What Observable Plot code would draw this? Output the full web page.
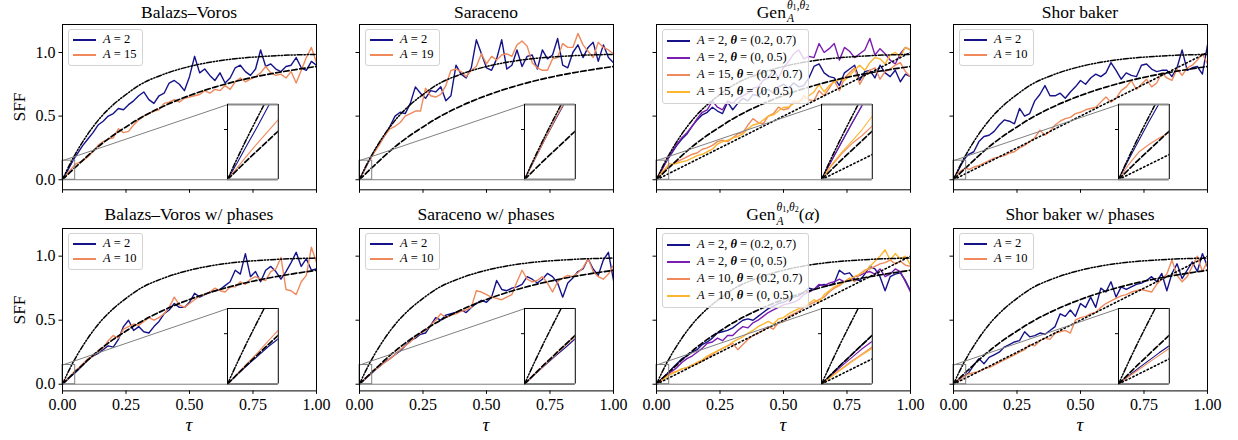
<!DOCTYPE html>
<html>
<head>
<meta charset="utf-8">
<script src="https://cdn.jsdelivr.net/npm/d3@7"></script>
<script src="https://cdn.jsdelivr.net/npm/@observablehq/plot@0.6"></script>
<style>
  body { margin: 0; background: #fff; }
  #fig { position: relative; width: 1238px; height: 440px; overflow: hidden;
         font-family: "Liberation Serif", "Times New Roman", serif; color: #000; }
  .title { position: absolute; font-size: 17.5px; line-height: 20px; text-align: center; white-space: nowrap; }
  .ss { display: inline-block; font-size: 0.66em; line-height: 1.18; vertical-align: -0.42em;
        text-align: left; margin: -0.8em 0 -0.8em 1px; }
  .ss > span { display: block; }
  .ss sub { font-size: 0.7em; vertical-align: -0.15em; line-height: 0; }
  .legend { position: absolute; background: rgba(255,255,255,0.8); border: 1px solid #d3d3d3;
            border-radius: 3px; padding: 2px 6px 3px 4px; font-size: 12.5px; }
  .legend .row { display: flex; align-items: center; white-space: nowrap; }
  .legend .sw { display: block; width: 23px; height: 2px; margin-right: 7px; flex: none; }
  .ylab { position: absolute; font-size: 17.5px; transform: translate(-50%, -50%) rotate(-90deg); white-space: nowrap; }
  .xlab { position: absolute; font-size: 19px; font-style: italic; transform: translate(-50%, -50%); }
</style>
</head>
<body>
<div id="fig"></div>
<script>
// ---- shared τ sampling of the measured SFF curves ----
const tauGrid = [0, 0.01, 0.02, 0.03, 0.04, 0.05,
  0.06, 0.08, 0.10, 0.12, 0.14, 0.16, 0.18, 0.20, 0.22, 0.24, 0.26, 0.28, 0.30, 0.32, 0.34, 0.36, 0.38, 0.40,
  0.42, 0.44, 0.46, 0.48, 0.50, 0.52, 0.54, 0.56, 0.58, 0.60, 0.62, 0.64, 0.66, 0.68, 0.70, 0.72, 0.74, 0.76,
  0.78, 0.80, 0.82, 0.84, 0.86, 0.88, 0.90, 0.92, 0.94, 0.96, 0.98, 1.00];

// Balazs–Voros
const bvA2 = [0, 0.035, 0.072, 0.108, 0.146, 0.18,
  0.21, 0.27, 0.32, 0.37, 0.43, 0.46, 0.50, 0.52,
  0.56, 0.55, 0.59, 0.62, 0.66, 0.69, 0.63, 0.60, 0.66, 0.68,
  0.76, 0.78, 0.75, 0.70, 0.81, 0.97, 0.84, 0.87, 0.82, 0.78,
  0.84, 0.76, 0.80, 0.88, 0.90, 0.85, 0.82, 0.87, 1.02, 0.89,
  0.91, 0.87, 0.85, 0.89, 0.90, 0.96, 0.88, 0.86, 0.93, 0.90];
const bvA15 = [0, 0.025, 0.05, 0.074, 0.097, 0.12,
  0.13, 0.15, 0.18, 0.22, 0.27, 0.30, 0.32, 0.33,
  0.40, 0.37, 0.38, 0.43, 0.47, 0.50, 0.52, 0.54, 0.55, 0.60,
  0.61, 0.63, 0.61, 0.64, 0.65, 0.66, 0.67, 0.70, 0.68, 0.71,
  0.70, 0.74, 0.71, 0.77, 0.80, 0.77, 0.79, 0.81, 0.84, 0.89,
  0.84, 0.82, 0.83, 0.80, 0.85, 0.76, 0.86, 0.96, 1.04, 0.92];

// Saraceno
const saA2 = [0, 0.04, 0.08, 0.118, 0.155, 0.19,
  0.23, 0.29, 0.35, 0.42, 0.50, 0.53, 0.52, 0.60,
  0.73, 0.68, 0.64, 0.70, 0.69, 0.73, 0.62, 0.66, 0.90, 0.83,
  0.80, 0.88, 1.10, 0.99, 0.88, 0.86, 0.95, 1.10, 0.87, 0.90,
  1.02, 0.89, 0.97, 0.98, 0.87, 1.02, 0.95, 0.98, 1.11, 0.90,
  0.88, 1.00, 1.06, 0.96, 1.04, 1.08, 0.93, 1.06, 0.96, 0.92];
const saA19 = [0, 0.04, 0.08, 0.12, 0.157, 0.19,
  0.22, 0.28, 0.35, 0.40, 0.42, 0.45, 0.50, 0.52,
  0.54, 0.54, 0.72, 0.66, 0.65, 0.67, 0.74, 0.86, 0.87, 0.85,
  0.81, 0.86, 0.89, 0.99, 0.91, 0.97, 0.94, 0.98, 0.99, 0.97,
  1.06, 1.09, 1.05, 0.92, 0.88, 0.86, 0.86, 0.95, 0.96, 1.07,
  1.04, 1.04, 1.15, 1.06, 1.01, 0.96, 1.08, 1.04, 1.02, 0.99];

// Gen_A^{θ1,θ2}
const genA2a = [0, 0.038, 0.075, 0.112, 0.148, 0.18,
  0.21, 0.27, 0.32, 0.36, 0.42, 0.47, 0.51, 0.53,
  0.57, 0.54, 0.52, 0.61, 0.55, 0.60, 0.64, 0.62, 0.67, 0.66,
  0.70, 0.71, 0.68, 0.73, 0.75, 0.72, 0.76, 0.73, 0.74, 0.80,
  0.89, 0.91, 0.84, 0.81, 0.80, 0.74, 0.84, 0.87, 0.90, 0.78,
  0.85, 0.86, 0.80, 0.90, 0.84, 0.81, 0.86, 0.77, 0.83, 0.81];
const genA2b = [0, 0.038, 0.076, 0.113, 0.149, 0.18,
  0.22, 0.28, 0.33, 0.37, 0.42, 0.48, 0.53, 0.55,
  0.62, 0.57, 0.55, 0.62, 0.60, 0.64, 0.66, 0.68, 0.72, 0.73,
  0.78, 0.80, 0.86, 0.80, 0.88, 0.93, 0.99, 1.02, 0.95, 0.97,
  0.96, 1.07, 1.00, 1.03, 1.07, 0.94, 1.04, 1.01, 0.96, 0.99,
  1.02, 1.11, 0.98, 1.03, 0.99, 0.94, 0.91, 0.99, 1.04, 1.02];
const genA15a = [0, 0.028, 0.052, 0.072, 0.088, 0.107,
  0.12, 0.14, 0.16, 0.18, 0.20, 0.21, 0.24, 0.25,
  0.27, 0.30, 0.31, 0.30, 0.33, 0.36, 0.37, 0.43, 0.48, 0.45,
  0.44, 0.50, 0.52, 0.57, 0.55, 0.56, 0.62, 0.60, 0.66, 0.63,
  0.62, 0.70, 0.66, 0.72, 0.78, 0.70, 0.80, 0.84, 0.88, 0.75,
  0.82, 0.86, 0.88, 0.79, 0.85, 0.87, 0.90, 0.92, 0.85, 0.81];
const genA15b = [0, 0.03, 0.055, 0.077, 0.10, 0.127,
  0.12, 0.13, 0.14, 0.15, 0.17, 0.19, 0.20, 0.22,
  0.24, 0.28, 0.30, 0.31, 0.33, 0.34, 0.36, 0.40, 0.43, 0.44,
  0.47, 0.50, 0.51, 0.54, 0.57, 0.57, 0.60, 0.62, 0.63, 0.66,
  0.69, 0.75, 0.69, 0.74, 0.77, 0.79, 0.78, 0.82, 0.86, 0.90,
  0.86, 0.92, 0.96, 0.95, 0.91, 0.98, 1.00, 0.97, 1.04, 1.02];

// Shor baker
const shA2 = [0, 0.04, 0.078, 0.116, 0.152, 0.18,
  0.20, 0.22, 0.30, 0.34, 0.35, 0.38, 0.43, 0.47,
  0.46, 0.44, 0.56, 0.50, 0.52, 0.62, 0.67, 0.74, 0.66, 0.66,
  0.68, 0.64, 0.69, 0.73, 0.78, 0.75, 0.80, 0.83, 0.81, 0.84,
  0.92, 0.86, 0.79, 0.84, 0.82, 0.81, 0.90, 0.91, 0.87, 0.85,
  0.86, 0.86, 0.81, 0.88, 1.02, 0.86, 0.88, 0.89, 0.83, 1.06];
const shA10 = [0, 0.03, 0.055, 0.07, 0.083, 0.094,
  0.08, 0.10, 0.11, 0.13, 0.15, 0.17, 0.18, 0.19,
  0.21, 0.22, 0.25, 0.27, 0.30, 0.33, 0.39, 0.35, 0.38, 0.43,
  0.46, 0.48, 0.49, 0.52, 0.53, 0.55, 0.56, 0.57, 0.61, 0.65,
  0.61, 0.64, 0.70, 0.73, 0.78, 0.71, 0.75, 0.79, 0.73, 0.76,
  0.84, 0.80, 0.78, 0.87, 0.82, 0.88, 0.90, 0.94, 0.99, 0.91];

// Balazs–Voros w/ phases
const bvpA2 = [0, 0.02, 0.038, 0.056, 0.074, 0.09,
  0.11, 0.15, 0.19, 0.22, 0.24, 0.27, 0.30, 0.29,
  0.35, 0.45, 0.50, 0.42, 0.45, 0.41, 0.40, 0.45, 0.49, 0.55,
  0.58, 0.63, 0.60, 0.60, 0.64, 0.71, 0.68, 0.70, 0.72, 0.73,
  0.74, 0.77, 0.80, 0.89, 0.86, 1.02, 0.84, 0.88, 0.80, 0.89,
  0.92, 0.88, 0.82, 0.88, 0.95, 1.03, 0.92, 0.98, 0.89, 0.90];
const bvpA10 = [0, 0.021, 0.042, 0.063, 0.085, 0.107,
  0.12, 0.16, 0.20, 0.22, 0.26, 0.28, 0.34, 0.38,
  0.36, 0.43, 0.45, 0.47, 0.46, 0.49, 0.52, 0.50, 0.52, 0.55,
  0.60, 0.68, 0.62, 0.60, 0.63, 0.66, 0.69, 0.70, 0.72, 0.75,
  0.73, 0.72, 0.76, 0.76, 0.80, 0.78, 0.82, 0.84, 0.82, 0.81,
  0.88, 0.90, 0.99, 0.74, 0.73, 0.70, 0.80, 0.85, 1.07, 0.95];

// Saraceno w/ phases
const sapA2 = [0, 0.019, 0.037, 0.055, 0.072, 0.09,
  0.11, 0.14, 0.175, 0.20, 0.23, 0.26, 0.30, 0.34,
  0.36, 0.39, 0.40, 0.46, 0.52, 0.50, 0.54, 0.55, 0.56, 0.58,
  0.56, 0.60, 0.63, 0.655, 0.64, 0.68, 0.81, 0.74, 0.73, 0.75,
  0.76, 0.78, 0.84, 0.82, 0.79, 0.82, 0.865, 0.84, 0.79, 0.68,
  0.79, 0.83, 0.88, 0.90, 0.98, 0.90, 0.85, 0.97, 1.03, 0.81];
const sapA10 = [0, 0.019, 0.038, 0.057, 0.076, 0.095,
  0.11, 0.14, 0.17, 0.20, 0.23, 0.27, 0.30, 0.33,
  0.37, 0.40, 0.42, 0.46, 0.50, 0.55, 0.52, 0.54, 0.55, 0.57,
  0.58, 0.60, 0.73, 0.72, 0.70, 0.68, 0.67, 0.66, 0.68, 0.70,
  0.80, 0.89, 0.82, 0.80, 0.81, 0.84, 0.79, 0.72, 0.80, 0.83,
  0.85, 0.84, 0.87, 0.91, 0.98, 0.88, 0.84, 0.82, 0.86, 0.93];

// Gen_A^{θ1,θ2}(α)
const genpA2a = [0, 0.02, 0.04, 0.059, 0.078, 0.097,
  0.12, 0.16, 0.20, 0.22, 0.25, 0.27, 0.31, 0.33,
  0.36, 0.40, 0.41, 0.42, 0.44, 0.47, 0.50, 0.51, 0.50, 0.53,
  0.56, 0.59, 0.61, 0.63, 0.64, 0.66, 0.68, 0.69, 0.72, 0.75,
  0.74, 0.77, 0.78, 0.77, 0.79, 0.89, 0.86, 0.87, 0.82, 0.81,
  0.86, 0.92, 0.90, 0.84, 0.73, 0.84, 0.86, 0.87, 0.81, 0.73];
const genpA2b = [0, 0.018, 0.036, 0.053, 0.07, 0.085,
  0.10, 0.13, 0.17, 0.20, 0.22, 0.25, 0.28, 0.32,
  0.33, 0.36, 0.34, 0.38, 0.38, 0.42, 0.45, 0.44, 0.48, 0.50,
  0.53, 0.56, 0.58, 0.60, 0.62, 0.63, 0.64, 0.66, 0.70, 0.72,
  0.74, 0.78, 0.77, 0.79, 0.80, 0.82, 0.80, 0.81, 0.84, 0.85,
  0.87, 0.88, 0.86, 0.90, 0.84, 0.86, 0.90, 0.88, 0.80, 0.72];
const genpA10a = [0, 0.016, 0.031, 0.046, 0.06, 0.074,
  0.09, 0.10, 0.12, 0.13, 0.15, 0.16, 0.18, 0.21,
  0.23, 0.26, 0.28, 0.30, 0.32, 0.27, 0.31, 0.35, 0.38, 0.40,
  0.42, 0.45, 0.43, 0.48, 0.49, 0.53, 0.55, 0.57, 0.60, 0.62,
  0.64, 0.66, 0.68, 0.72, 0.75, 0.77, 0.80, 0.83, 0.80, 0.86,
  0.89, 0.90, 0.92, 0.94, 0.95, 0.97, 0.94, 0.96, 0.93, 0.92];
const genpA10b = [0, 0.015, 0.03, 0.044, 0.058, 0.071,
  0.08, 0.10, 0.12, 0.13, 0.15, 0.17, 0.19, 0.22,
  0.24, 0.26, 0.28, 0.30, 0.33, 0.35, 0.37, 0.40, 0.42, 0.45,
  0.47, 0.49, 0.47, 0.51, 0.52, 0.55, 0.57, 0.59, 0.61, 0.63,
  0.66, 0.64, 0.70, 0.73, 0.76, 0.78, 0.80, 0.82, 0.84, 0.86,
  0.88, 0.92, 0.96, 1.00, 1.05, 0.97, 1.02, 0.98, 1.00, 0.93];

// Shor baker w/ phases
const shpA2 = [0, 0.016, 0.032, 0.047, 0.062, 0.076,
  0.09, 0.15, 0.20, 0.16, 0.21, 0.23, 0.25, 0.29,
  0.31, 0.33, 0.34, 0.41, 0.37, 0.38, 0.40, 0.39, 0.42, 0.45,
  0.55, 0.53, 0.58, 0.53, 0.63, 0.60, 0.68, 0.60, 0.75, 0.72,
  0.80, 0.68, 0.76, 0.74, 0.76, 0.78, 0.79, 0.81, 0.84, 0.80,
  0.865, 0.73, 0.865, 0.94, 0.825, 0.89, 0.955, 0.88, 1.02, 0.92];
const shpA10 = [0, 0.015, 0.029, 0.043, 0.057, 0.071,
  0.08, 0.09, 0.10, 0.12, 0.13, 0.15, 0.17, 0.19,
  0.21, 0.23, 0.25, 0.27, 0.31, 0.30, 0.34, 0.36, 0.35, 0.40,
  0.41, 0.42, 0.40, 0.50, 0.52, 0.53, 0.55, 0.56, 0.60, 0.63,
  0.65, 0.67, 0.69, 0.70, 0.72, 0.73, 0.74, 0.73, 0.72, 0.78,
  0.82, 0.86, 0.97, 0.85, 0.80, 0.84, 0.92, 1.00, 0.88, 0.96];

// ---- reference (theory) curves ----
const theoryTau = [0, 0.01, 0.02, 0.03, 0.04, 0.05, 0.06, 0.08, 0.10, 0.15, 0.20, 0.25, 0.30, 0.40, 0.50, 0.60, 0.70, 0.80, 0.90, 1.00];
const fastCurve = [0, 0.044, 0.086, 0.126, 0.165, 0.20, 0.235, 0.30, 0.36, 0.49, 0.59, 0.67, 0.74, 0.83, 0.89, 0.93, 0.955, 0.97, 0.98, 0.985];
const slowCurve = [0, 0.02, 0.04, 0.059, 0.078, 0.097, 0.115, 0.152, 0.19, 0.275, 0.35, 0.415, 0.478, 0.58, 0.662, 0.728, 0.782, 0.825, 0.86, 0.89];
const rampTau = [0, 1];
const rampCurve = [0, 1];

// ---- axes, ticks, zoom window ----
const xTicks = [0, 0.25, 0.5, 0.75, 1];
const yTicks = [0, 0.5, 1];
const insetYTicks = [0.1];
const zoomTau = [0, 0.05];
const zoomSff = [0, 0.15];
const insetTau = [0.65, 0.85];
const insetSff = [0, 0.59];
const yDomains = [[-0.079, 1.22], [-0.052, 1.216]];

// ---- page layout ----
const colLeft = [62, 359, 656, 953];
const frameWidth = 254;
const rowTop = [24, 228.3];
const rowBottom = [189.3, 390.7];

const serif = '"Liberation Serif", "Times New Roman", serif';
const navy = "#16138a", purple = "#7a1db0", coral = "#f08a5d", amber = "#fdb62f";

const gen = 'Gen<span class="ss"><span><i>θ</i><sub>1</sub>,<i>θ</i><sub>2</sub></span><span><i>A</i></span></span>';
const lbl = (a, th) => `<i>A</i> = ${a}` + (th ? `, <b><i>θ</i></b> = ${th}` : "");

const panels = [
  {title: "Balazs–Voros", ramp: false, series: [[bvA2, lbl(2), navy], [bvA15, lbl(15), coral]]},
  {title: "Saraceno", ramp: false, series: [[saA2, lbl(2), navy], [saA19, lbl(19), coral]]},
  {title: gen, ramp: true, series: [[genA2a, lbl(2, "(0.2, 0.7)"), navy], [genA2b, lbl(2, "(0, 0.5)"), purple],
                                    [genA15a, lbl(15, "(0.2, 0.7)"), coral], [genA15b, lbl(15, "(0, 0.5)"), amber]]},
  {title: "Shor baker", ramp: true, series: [[shA2, lbl(2), navy], [shA10, lbl(10), coral]]},
  {title: "Balazs–Voros w/ phases", ramp: false, series: [[bvpA2, lbl(2), navy], [bvpA10, lbl(10), coral]]},
  {title: "Saraceno w/ phases", ramp: false, series: [[sapA2, lbl(2), navy], [sapA10, lbl(10), coral]]},
  {title: gen + "(<i>α</i>)", ramp: true, series: [[genpA2a, lbl(2, "(0.2, 0.7)"), navy], [genpA2b, lbl(2, "(0, 0.5)"), purple],
                                                  [genpA10a, lbl(10, "(0.2, 0.7)"), coral], [genpA10b, lbl(10, "(0, 0.5)"), amber]]},
  {title: "Shor baker w/ phases", ramp: true, series: [[shpA2, lbl(2), navy], [shpA10, lbl(10), coral]]}
];

const toRows = (xs, ys) => xs.map((t, i) => ({tau: t, sff: ys[i]}));
const fastRows = toRows(theoryTau, fastCurve);
const slowRows = toRows(theoryTau, slowCurve);
const rampRows = toRows(rampTau, rampCurve);

function theoryMarks(ramp) {
  const m = [
    Plot.line(fastRows, {x: "tau", y: "sff", stroke: "#000", strokeWidth: 1.5, strokeDasharray: "5,1.8,1.3,1.8,1.3,1.8", curve: "monotone-x", clip: true}),
    Plot.line(slowRows, {x: "tau", y: "sff", stroke: "#000", strokeWidth: 1.7, strokeDasharray: "5.5,2.6", curve: "monotone-x", clip: true})
  ];
  if (ramp) m.push(Plot.line(rampRows, {x: "tau", y: "sff", stroke: "#000", strokeWidth: 1.6, strokeDasharray: "1.4,2.6", clip: true}));
  return m;
}

const fig = document.getElementById("fig");
const ml = 40, mr = 8, mt = 6, mb = 30;

panels.forEach((p, k) => {
  const r = Math.floor(k / 4), c = k % 4;
  const fh = rowBottom[r] - rowTop[r];
  const seriesRows = p.series.map(([vals, label, color]) => ({label, color, rows: toRows(tauGrid, vals)}));
  const zoomBox = [{x1: zoomTau[0], x2: zoomTau[1], y1: zoomSff[0], y2: zoomSff[1]}];
  const connectors = [
    {x1: zoomTau[0], y1: zoomSff[1], x2: insetTau[0], y2: insetSff[1]},
    {x1: zoomTau[0], y1: zoomSff[0], x2: insetTau[0], y2: insetSff[0]}
  ];

  const main = Plot.plot({
    width: frameWidth + ml + mr,
    height: fh + mt + mb,
    marginLeft: ml, marginRight: mr, marginTop: mt, marginBottom: mb,
    x: {domain: [0, 1]},
    y: {domain: yDomains[r]},
    style: {fontFamily: serif, fontSize: "16px", background: "transparent", overflow: "visible"},
    marks: [
      ...seriesRows.map(s => Plot.line(s.rows, {x: "tau", y: "sff", stroke: s.color, strokeWidth: 1.4, clip: true})),
      ...theoryMarks(p.ramp),
      Plot.rect(zoomBox, {x1: "x1", x2: "x2", y1: "y1", y2: "y2", fill: "none", stroke: "#808080", strokeWidth: 1}),
      Plot.link(connectors, {x1: "x1", y1: "y1", x2: "x2", y2: "y2", stroke: "#808080", strokeWidth: 1}),
      Plot.frame({stroke: "#000", strokeWidth: 1}),
      Plot.axisX(xTicks, {tickSize: 3.5, tickPadding: 4, label: null, fontSize: 16,
                          tickFormat: r === 1 ? (d => d.toFixed(2)) : (() => "")}),
      Plot.axisY(yTicks, {tickSize: 3.5, tickPadding: 3.5, label: null, fontSize: 16,
                          tickFormat: c === 0 ? (d => d.toFixed(1)) : (() => "")})
    ]
  });
  const left = colLeft[c] - ml, top = rowTop[r] - mt;
  main.style.position = "absolute";
  main.style.left = left + "px";
  main.style.top = top + "px";
  main.style.fontFamily = serif;
  main.querySelectorAll("text").forEach(el => el.style.fontFamily = serif);
  fig.appendChild(main);

  const xs = main.scale("x"), ys = main.scale("y");

  // title
  const t = document.createElement("div");
  t.className = "title";
  t.style.left = colLeft[c] + "px";
  t.style.width = frameWidth + "px";
  t.style.top = (r === 0 ? 1.5 : 204) + "px";
  t.innerHTML = p.title;
  fig.appendChild(t);

  // legend
  const lg = document.createElement("div");
  lg.className = "legend";
  lg.style.left = (colLeft[c] + 6) + "px";
  lg.style.top = Math.round(rowTop[r] + 5) + "px";
  const rowH = p.series.length > 2 ? 17 : 15;
  lg.innerHTML = seriesRows.map(s =>
    `<div class="row" style="height:${rowH}px"><span class="sw" style="background:${s.color}"></span><span>${s.label}</span></div>`).join("");
  fig.appendChild(lg);

  // zoomed inset of the small-τ window
  const ix0 = xs.apply(insetTau[0]), ix1 = xs.apply(insetTau[1]);
  const iy0 = ys.apply(insetSff[1]), iy1 = ys.apply(insetSff[0]);
  const edge = r === 0 ? "#8a8a8a" : "#000";
  const inset = Plot.plot({
    width: ix1 - ix0, height: iy1 - iy0, margin: 0,
    x: {domain: zoomTau, axis: null},
    y: {domain: zoomSff},
    style: {background: "#fff", overflow: "visible"},
    marks: [
      ...seriesRows.map(s => Plot.line(s.rows, {x: "tau", y: "sff", stroke: s.color, strokeWidth: 1.1, clip: true})),
      ...theoryMarks(p.ramp),
      Plot.ruleY(zoomSff, {stroke: edge, strokeWidth: r === 0 ? 2 : 1}),
      Plot.ruleX(zoomTau, {stroke: "#000", strokeWidth: 1}),
      Plot.axisY(insetYTicks, {tickSize: 3, label: null, tickFormat: () => ""})
    ]
  });
  inset.style.position = "absolute";
  inset.style.left = (left + ix0) + "px";
  inset.style.top = (top + iy0) + "px";
  fig.appendChild(inset);

  // axis titles
  if (c === 0) {
    const yl = document.createElement("div");
    yl.className = "ylab";
    yl.textContent = "SFF";
    yl.style.left = "19px";
    yl.style.top = (top + (ys.apply(yDomains[r][0]) + ys.apply(yDomains[r][1])) / 2) + "px";
    fig.appendChild(yl);
  }
  if (r === 1) {
    const xl = document.createElement("div");
    xl.className = "xlab";
    xl.textContent = "τ";
    xl.style.left = (left + xs.apply(0.5)) + "px";
    xl.style.top = "425px";
    fig.appendChild(xl);
  }
});
</script>
</body>
</html>
